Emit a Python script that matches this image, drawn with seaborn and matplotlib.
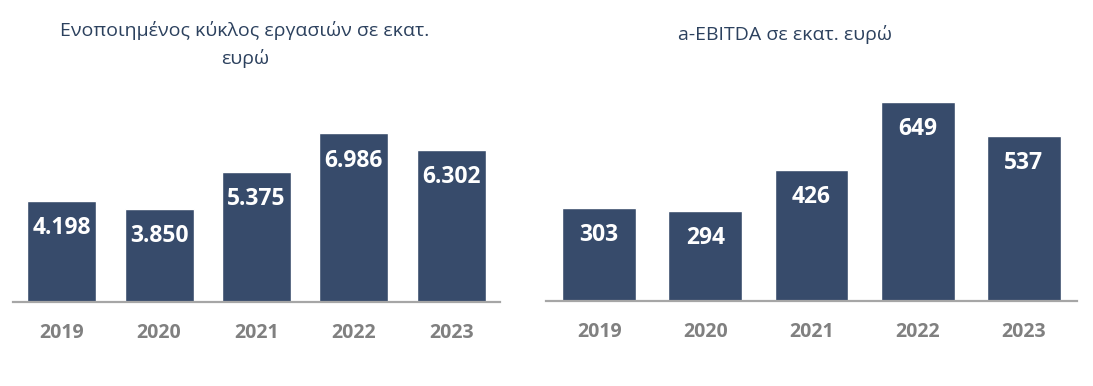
import pandas as pd
import matplotlib
matplotlib.use('Agg')
import matplotlib.pyplot as plt
import seaborn as sns

# δεδομένα
years = ['2019', '2020', '2021', '2022', '2023']
turnover = [4198, 3850, 5375, 6986, 6302]
ebitda = [303, 294, 426, 649, 537]
turnover_labels = ['4.198', '3.850', '5.375', '6.986', '6.302']
ebitda_labels = ['303', '294', '426', '649', '537']

title_left = 'Ενοποιημένος κύκλος εργασιών σε εκατ.\nευρώ'
title_right = 'a-EBITDA σε εκατ. ευρώ'

sns.set_theme(style='white')
plt.rcParams['font.family'] = ['Open Sans', 'DejaVu Sans']

BAR = '#374B6B'
TXT = '#2C415E'
GRID = '#A6A6A6'

fig = plt.figure(figsize=(10.93, 3.86), dpi=100)
W, H = 1093, 386

def make_ax(left, right, base, top):
    return fig.add_axes([left / W, (H - base) / H, (right - left) / W, (base - top) / H])

ax1 = make_ax(13, 500, 302, 109)
ax2 = make_ax(546, 1077, 301, 86)

def draw(ax, vals, labels, ymax, width):
    df = pd.DataFrame({'year': years, 'value': vals})
    sns.barplot(data=df, x='year', y='value', color=BAR, saturation=1,
                width=width, ax=ax)
    ax.set_xlim(-0.5, 4.5)
    ax.set_ylim(0, ymax)
    for i, (v, lb) in enumerate(zip(vals, labels)):
        ax.annotate(lb, (i, v), xytext=(0, -19.5), textcoords='offset points',
                    ha='center', va='center', color='white',
                    fontsize=16.5, fontweight='bold')
    for s in ['top', 'right', 'left']:
        ax.spines[s].set_visible(False)
    ax.spines['bottom'].set_color(GRID)
    ax.spines['bottom'].set_linewidth(1.6)
    ax.set_yticks([])
    ax.set_xlabel('')
    ax.set_ylabel('')
    ax.tick_params(axis='x', length=0, pad=15, labelsize=14, labelcolor='#808080')
    for t in ax.get_xticklabels():
        t.set_fontweight('bold')

draw(ax1, turnover, turnover_labels, 8000, 0.71)
draw(ax2, ebitda, ebitda_labels, 700, 0.695)

fig.text(245 / W, 1 - 45 / H, title_left, ha='center', va='center',
         fontsize=14, color=TXT, linespacing=1.6)
fig.text(785 / W, 1 - 35 / H, title_right, ha='center', va='center',
         fontsize=14, color=TXT)

fig.savefig('out.png', dpi=100)
